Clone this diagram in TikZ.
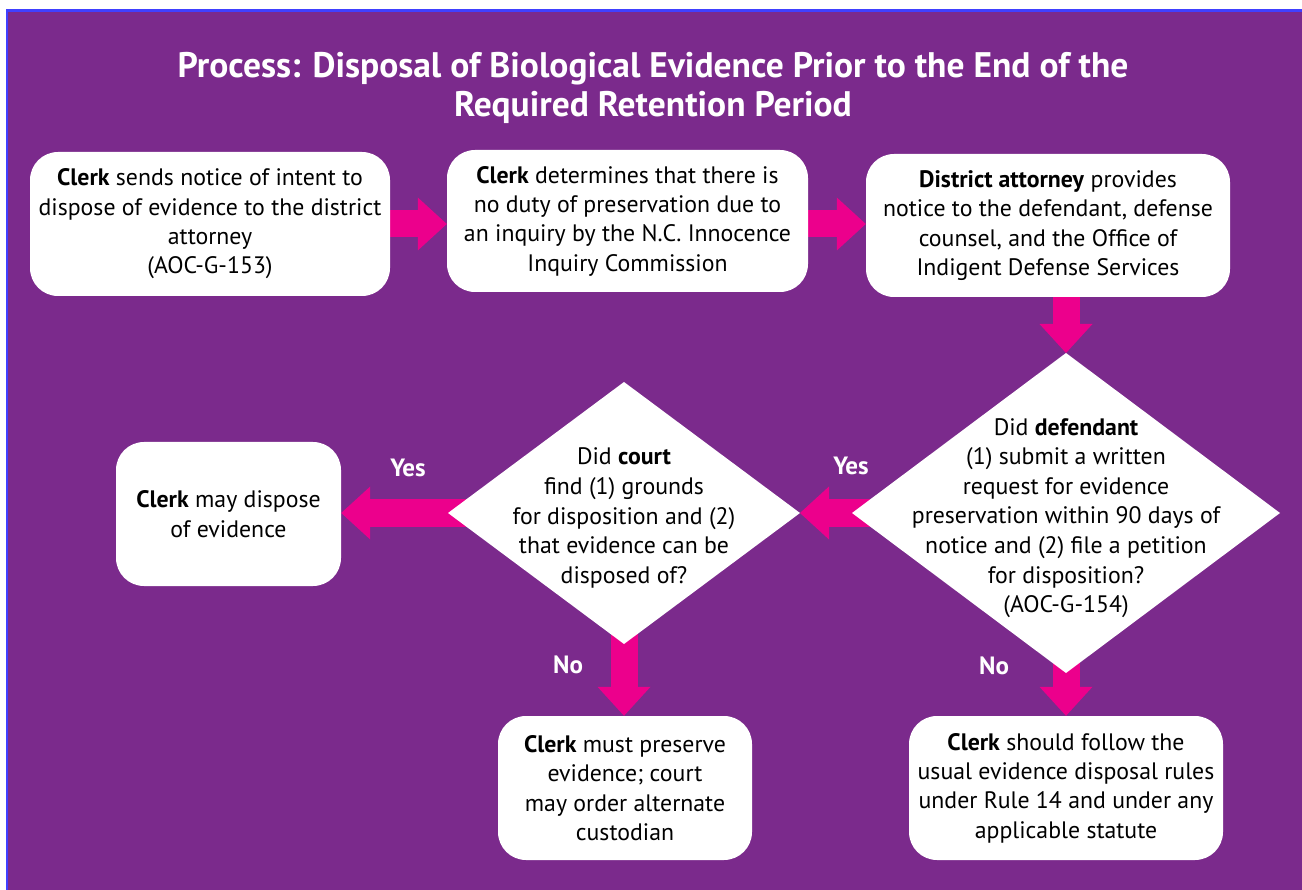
\documentclass[tikz,border=0pt]{standalone}
\usepackage{fontspec}
\setmainfont{PT Sans}
\usetikzlibrary{arrows.meta,shapes.geometric}
\definecolor{bgpurple}{RGB}{123,42,140}
\definecolor{arrowpink}{RGB}{236,0,140}
\definecolor{edgeblue}{RGB}{64,64,255}
\pgfdeclarelayer{bottom}
\pgfdeclarelayer{arrowlayer}
\pgfsetlayers{bottom,arrowlayer,main}
\begin{document}
\begin{tikzpicture}[x=1pt,y=-1pt,
  box/.style={fill=white, rounded corners=28pt, align=center, inner sep=0pt,
    font=\fontsize{23.8}{29.3}\selectfont, execute at begin node={\rule{0pt}{23pt}}},
  dshape/.style={diamond, fill=white, inner sep=0pt, outer sep=0pt},
  dtext/.style={align=center, inner sep=0pt, font=\fontsize{23.8}{29.6}\selectfont},
  flow/.style={draw=arrowpink, line width=27pt,
    -{Triangle[width=53pt,length=29pt,line width=0pt]}},
  lbl/.style={text=white, font=\fontsize{25}{28}\selectfont\bfseries, inner sep=0pt},
  ttl/.style={text=white, align=center, inner sep=0pt, font=\fontsize{35.5}{38.5}\selectfont\bfseries}]
\useasboundingbox (0,0) rectangle (1302,890);
\begin{pgfonlayer}{bottom}
  \clip (0,0) rectangle (1302,890);
  \fill[white] (0,0) rectangle (1302,890);
  \draw[edgeblue, line width=2.5pt, fill=bgpurple] (7,10.5) rectangle (1320,910);
\end{pgfonlayer}

\node[ttl] (title) at (653,88) {Process: Disposal of Biological Evidence Prior to the End of the\\Required Retention Period};

\node[box, minimum width=360pt, minimum height=144pt] (b1) at (210,224)
  {\textbf{Clerk} sends notice of intent to\\dispose of evidence to the district\\attorney\\(AOC-G-153)};
\node[box, minimum width=361pt, minimum height=142pt] (b2) at (627.5,221)
  {\textbf{Clerk} determines that there is\\no duty of preservation due to\\an inquiry by the N.C. Innocence\\Inquiry Commission};
\node[box, minimum width=364pt, minimum height=143pt] (b3) at (1048,225.5)
  {\textbf{District attorney} provides\\notice to the defendant, defense\\counsel, and the Office of\\Indigent Defense Services};

\node[dshape, minimum width=428pt, minimum height=320pt] (d1) at (1066,513) {};
\node[dtext] (d1t) at (1066,518)
  {Did \textbf{defendant}\\(1) submit a written\\request for evidence\\preservation within 90 days of\\notice and (2) file a petition\\for disposition?\\(AOC-G-154)};
\node[dshape, minimum width=352pt, minimum height=262pt] (d2) at (624,513) {};
\node[dtext] (d2t) at (624,518)
  {Did \textbf{court}\\find (1) grounds\\for disposition and (2)\\that evidence can be\\disposed of?};

\node[box, minimum width=225pt, minimum height=144pt] (b4) at (228.5,514)
  {\textbf{Clerk} may dispose\\of evidence};
\node[box, minimum width=254pt, minimum height=144pt] (b5) at (625,788)
  {\textbf{Clerk} must preserve\\evidence; court\\may order alternate\\custodian};
\node[box, minimum width=314pt, minimum height=144pt] (b6) at (1066,788)
  {\textbf{Clerk} should follow the\\usual evidence disposal rules\\under Rule 14 and under any\\applicable statute};

\begin{pgfonlayer}{arrowlayer}
  \draw[flow] (d1.center) -- (d2.east);
  \draw[flow] (d2.center) -- (b4.east |- d2.center);
  \draw[flow] (d2.center) -- (d2.center |- b5.north);
  \draw[flow] (d1.center) -- (d1.center |- b6.north);
  \draw[flow] (b1.east) -- (b1.east -| b2.west);
  \draw[flow] (b2.east |- b1.east) -- (b1.east -| b3.west);
  \draw[flow] (d1.north |- b3.south) -- (d1.north);
\end{pgfonlayer}

\node[lbl] (yes2) at (408,468) {Yes};
\node[lbl] (yes1) at (851,466) {Yes};
\node[lbl] (no2) at (568,665) {No};
\node[lbl] (no1) at (994,666) {No};
\end{tikzpicture}
\end{document}
